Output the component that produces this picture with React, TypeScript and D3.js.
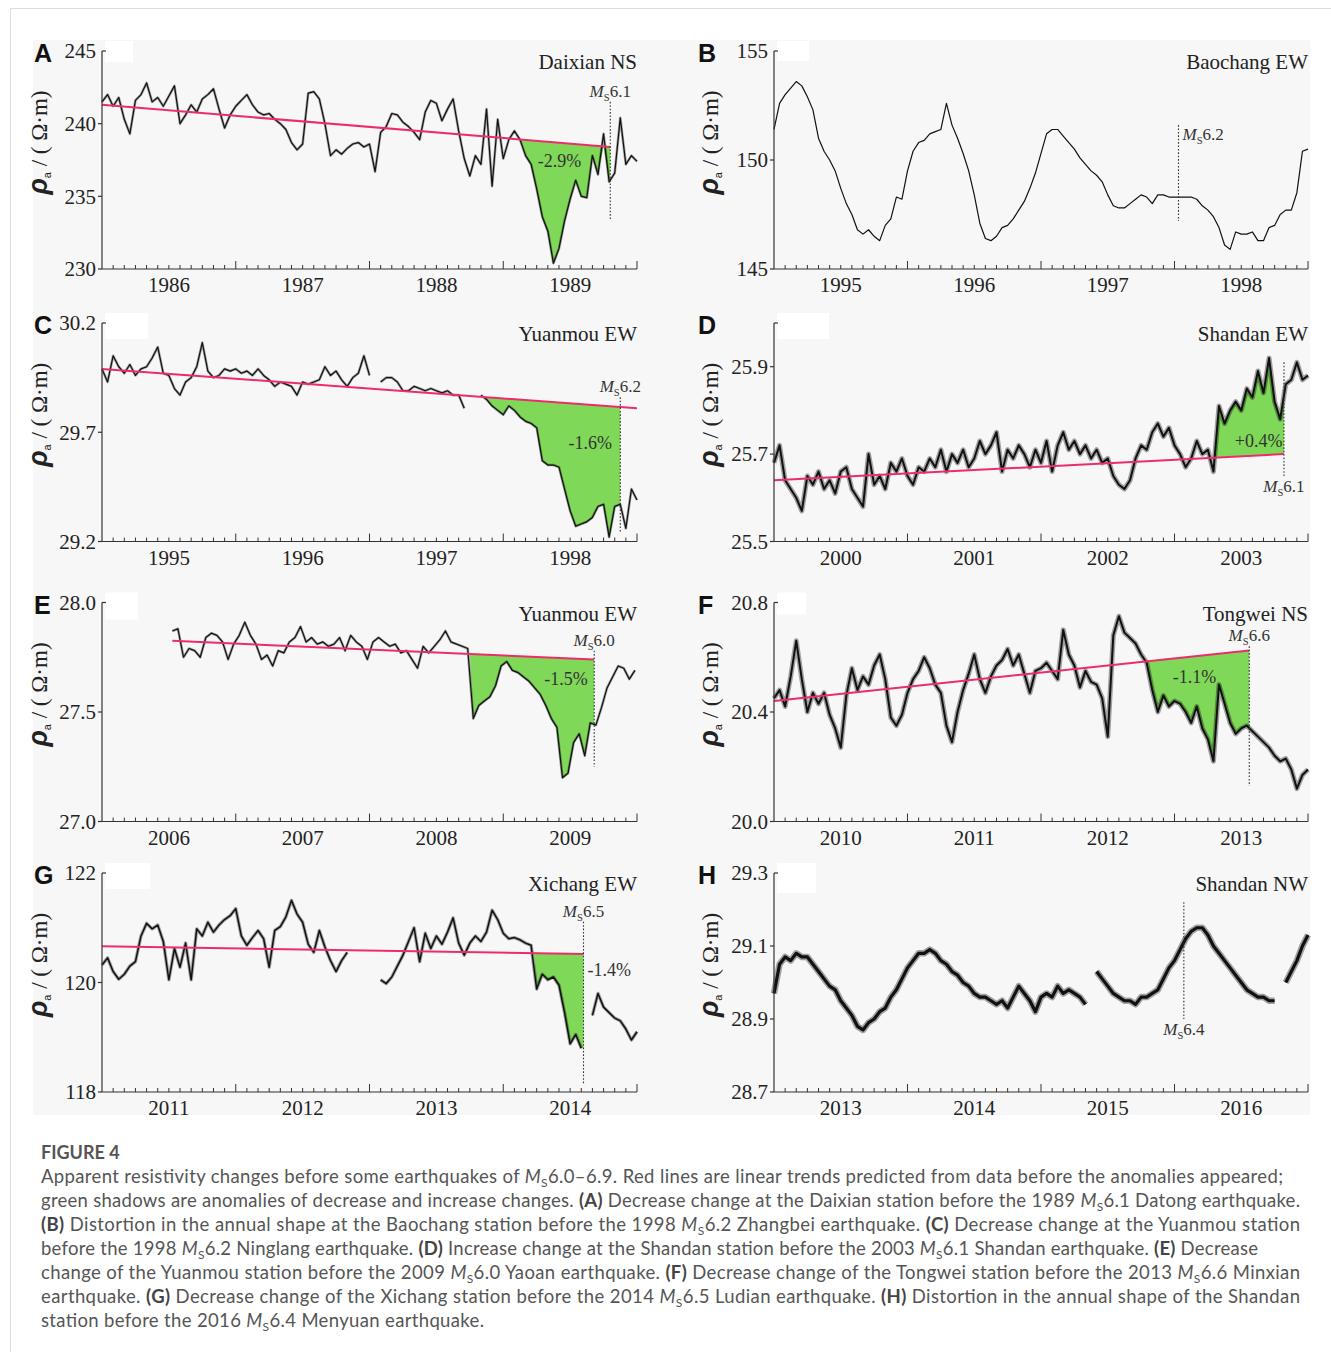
import React from "react";
import * as d3 from "d3";

// sampling step of every series: half a month
const STEP = 1 / 24;

// ---- series (apparent resistivity, Ω·m) ----
const daixianNS = [
  241.5, 242.0, 241.2, 241.8, 240.3, 239.3, 241.6, 242.0, 242.8, 241.5,
  241.8, 241.2, 241.9, 242.6, 240.0, 240.6, 241.3, 240.8, 241.7, 242.0,
  242.4, 241.0, 239.7, 240.6, 241.2, 241.6, 242.0, 241.3, 240.8, 240.6,
  240.7, 240.3, 240.0, 239.6, 238.7, 238.2, 238.6, 242.1, 242.2, 241.7,
  240.0, 237.8, 238.2, 237.9, 238.3, 238.6, 238.7, 238.4, 238.6, 236.7,
  239.4, 239.8, 240.7, 240.6, 240.1, 239.8, 239.4, 238.9, 240.8, 241.6,
  241.4, 240.2, 241.0, 241.7, 239.5, 237.6, 236.4, 237.8, 237.2, 241.0,
  235.7, 240.3, 237.6, 238.9, 239.5, 238.9, 237.8, 237.2, 235.5, 233.6,
  232.6, 230.4, 231.4, 233.3, 234.8, 236.1, 235.0, 234.9, 237.8, 236.5,
  239.3, 236.0, 236.6, 240.4, 237.2, 237.8, 237.4,
];

const baochangEW = [
  151.4, 152.6, 153.0, 153.3, 153.6, 153.4, 152.9, 152.3, 151.0, 150.4,
  150.0, 149.5, 148.7, 148.0, 147.5, 146.8, 146.6, 146.8, 146.5, 146.3,
  147.0, 147.3, 148.3, 148.2, 149.5, 150.4, 150.8, 150.9, 151.2, 151.3,
  151.4, 152.6, 151.6, 151.0, 150.3, 149.5, 148.4, 147.1, 146.4, 146.3,
  146.5, 146.9, 147.0, 147.3, 147.7, 148.1, 148.7, 149.4, 150.3, 151.2,
  151.4, 151.4, 151.1, 150.8, 150.5, 150.1, 149.8, 149.5, 149.3, 149.0,
  148.4, 147.9, 147.8, 147.8, 148.0, 148.2, 148.4, 148.3, 148.0, 148.4,
  148.4, 148.3, 148.3, 148.3, 148.3, 148.3, 148.2, 147.9, 147.7, 147.4,
  146.9, 146.1, 145.9, 146.7, 146.6, 146.6, 146.7, 146.3, 146.3, 146.9,
  147.0, 147.5, 147.7, 147.7, 148.5, 150.4, 150.5,
];

const yuanmouEW9598 = [
  29.99, 29.93, 30.05, 30.0, 29.97, 30.01, 29.96, 29.99, 30.0, 30.04,
  30.09, 29.97, 29.96, 29.9, 29.87, 29.93, 29.95, 30.0, 30.11, 29.98,
  29.95, 29.96, 29.99, 29.98, 29.99, 29.97, 29.98, 29.96, 29.99, 29.96,
  29.94, 29.91, 29.93, 29.92, 29.91, 29.87, 29.93, 29.92, 29.93, 29.94,
  30.0, 29.96, 29.98, 29.94, 29.91, 29.95, 29.97, 30.05, 29.96, null,
  29.93, 29.95, 29.95, 29.93, 29.89, 29.89, 29.91, 29.9, 29.89, 29.9,
  29.89, 29.88, 29.89, 29.87, 29.87, 29.81, null, null, 29.87, 29.85,
  29.82, 29.8, 29.78, 29.82, 29.8, 29.77, 29.75, 29.74, 29.72, 29.57,
  29.55, 29.55, 29.54, 29.44, 29.34, 29.27, 29.28, 29.29, 29.31, 29.36,
  29.37, 29.22, 29.36, 29.37, 29.26, 29.44, 29.39,
];

const shandanEW = [
  25.68, 25.72, 25.64, 25.62, 25.6, 25.57, 25.65, 25.63, 25.66, 25.62,
  25.64, 25.61, 25.66, 25.67, 25.62, 25.6, 25.58, 25.7, 25.63, 25.65,
  25.62, 25.68, 25.66, 25.69, 25.65, 25.63, 25.67, 25.66, 25.69, 25.67,
  25.71, 25.66, 25.7, 25.68, 25.71, 25.67, 25.69, 25.73, 25.7, 25.72,
  25.75, 25.66, 25.71, 25.69, 25.72, 25.7, 25.67, 25.71, 25.68, 25.73,
  25.66, 25.72, 25.75, 25.71, 25.73, 25.7, 25.72, 25.69, 25.71, 25.68,
  25.69, 25.65, 25.63, 25.62, 25.64, 25.69, 25.72, 25.71, 25.75, 25.77,
  25.74, 25.76, 25.72, 25.7, 25.67, 25.69, 25.73, 25.7, 25.71, 25.66,
  25.81, 25.77, 25.8, 25.82, 25.8, 25.85, 25.83, 25.89, 25.84, 25.92,
  25.82, 25.78, 25.86, 25.87, 25.91, 25.87, 25.88,
];

const yuanmouEW0609 = [
  27.87, 27.88, 27.75, 27.79, 27.78, 27.75, 27.84, 27.86, 27.85, 27.82,
  27.74, 27.81, 27.85, 27.91, 27.85, 27.81, 27.74, 27.76, 27.71, 27.78,
  27.77, 27.82, 27.84, 27.89, 27.82, 27.84, 27.81, 27.82, 27.8, 27.81,
  27.84, 27.78, 27.85, 27.82, 27.8, 27.74, 27.82, 27.84, 27.82, 27.8,
  27.81, 27.77, 27.78, 27.74, 27.7, 27.8, 27.77, 27.8, 27.83, 27.87,
  27.82, 27.81, 27.8, 27.79, 27.47, 27.53, 27.55, 27.57, 27.62, 27.71,
  27.73, 27.69, 27.68, 27.66, 27.64, 27.61, 27.58, 27.53, 27.47, 27.43,
  27.2, 27.22, 27.36, 27.4, 27.3, 27.45, 27.44, 27.52, 27.61, 27.66,
  27.71, 27.7, 27.65, 27.69,
];

const tongweiNS = [
  20.45, 20.48, 20.42, 20.53, 20.66, 20.52, 20.4, 20.47, 20.43, 20.47,
  20.39, 20.34, 20.27, 20.46, 20.56, 20.48, 20.53, 20.5, 20.57, 20.61,
  20.52, 20.38, 20.35, 20.39, 20.47, 20.52, 20.55, 20.6, 20.56, 20.5,
  20.47, 20.35, 20.29, 20.4, 20.48, 20.54, 20.61, 20.52, 20.47, 20.53,
  20.57, 20.59, 20.63, 20.57, 20.61, 20.54, 20.47, 20.55, 20.56, 20.58,
  20.55, 20.52, 20.7, 20.61, 20.57, 20.49, 20.55, 20.51, 20.5, 20.45,
  20.31, 20.68, 20.75, 20.69, 20.67, 20.65, 20.61, 20.58, 20.48, 20.4,
  20.46, 20.42, 20.44, 20.43, 20.4, 20.36, 20.42, 20.34, 20.3, 20.22,
  20.5, 20.43, 20.36, 20.32, 20.34, 20.35, 20.33, 20.31, 20.29, 20.27,
  20.24, 20.22, 20.23, 20.19, 20.12, 20.17, 20.19,
];

const xichangEW = [
  120.32, 120.45, 120.2, 120.06, 120.15, 120.3, 120.38, 120.85, 121.08, 120.98,
  121.05, 120.75, 120.05, 120.62, 120.28, 120.72, 120.05, 120.98, 120.85, 121.1,
  120.92, 121.05, 121.15, 121.22, 121.35, 120.85, 120.68, 120.82, 120.95, 120.8,
  120.28, 120.95, 121.02, 121.2, 121.5, 121.25, 121.1, 120.7, 120.55, 120.95,
  120.65, 120.4, 120.2, 120.4, 120.55, null, null, null, null, null,
  120.05, 119.98, 120.1, 120.3, 120.5, 120.75, 121.0, 120.38, 120.9, 120.62,
  120.85, 120.7, 120.92, 121.18, 120.72, 120.5, 120.72, 120.85, 120.75, 120.92,
  121.32, 121.15, 120.9, 120.8, 120.82, 120.78, 120.72, 120.68, 119.88, 120.15,
  120.05, 120.1, 119.95, 119.45, 118.88, 119.05, 118.8, null, 119.4, 119.8,
  119.55, 119.45, 119.35, 119.3, 119.15, 118.95, 119.1,
];

const shandanNW = [
  28.97, 29.05, 29.07, 29.06, 29.08, 29.07, 29.07, 29.05, 29.03, 29.01,
  28.99, 28.98, 28.95, 28.93, 28.91, 28.88, 28.87, 28.89, 28.9, 28.92,
  28.93, 28.96, 28.98, 29.01, 29.04, 29.06, 29.08, 29.08, 29.09, 29.08,
  29.06, 29.05, 29.03, 29.02, 29.0, 28.99, 28.97, 28.96, 28.96, 28.95,
  28.94, 28.95, 28.93, 28.96, 28.99, 28.97, 28.95, 28.92, 28.96, 28.97,
  28.96, 28.99, 28.97, 28.98, 28.97, 28.96, 28.94, null, 29.03, 29.01,
  28.99, 28.97, 28.96, 28.95, 28.95, 28.94, 28.96, 28.96, 28.97, 28.98,
  29.01, 29.04, 29.06, 29.09, 29.12, 29.14, 29.15, 29.15, 29.13, 29.1,
  29.08, 29.06, 29.04, 29.02, 29.0, 28.98, 28.97, 28.96, 28.96, 28.95,
  28.95, null, 29.0, 29.03, 29.06, 29.1, 29.13,
];

// ---- caption ----
const captionTitle = "FIGURE 4";
const captionLines = [
  "Apparent resistivity changes before some earthquakes of {M}6.0–6.9. Red lines are linear trends predicted from data before the anomalies appeared;",
  "green shadows are anomalies of decrease and increase changes. **(A)** Decrease change at the Daixian station before the 1989 {M}6.1 Datong earthquake.",
  "**(B)** Distortion in the annual shape at the Baochang station before the 1998 {M}6.2 Zhangbei earthquake. **(C)** Decrease change at the Yuanmou station",
  "before the 1998 {M}6.2 Ninglang earthquake. **(D)** Increase change at the Shandan station before the 2003 {M}6.1 Shandan earthquake. **(E)** Decrease",
  "change of the Yuanmou station before the 2009 {M}6.0 Yaoan earthquake. **(F)** Decrease change of the Tongwei station before the 2013 {M}6.6 Minxian",
  "earthquake. **(G)** Decrease change of the Xichang station before the 2014 {M}6.5 Ludian earthquake. **(H)** Distortion in the annual shape of the Shandan",
  "station before the 2016 {M}6.4 Menyuan earthquake.",
];

// ---- layout ----
const W = 1331;
const H = 1352;
const colX: [number, number][] = [[102, 637], [774, 1308]];
const rowY: [number, number][] = [[51, 269], [323, 541.5], [602.5, 821.5], [873, 1092]];
const captionEnds = [1283, 1300, 1300, 1258, 1300, 1300, 484];

const SERIF = "'Liberation Serif', 'Times New Roman', serif";
const SANS = "'Liberation Sans', Arial, sans-serif";
const CAPTION_FONT = "Lato, 'Open Sans', sans-serif";
const RED = "#ec2d6a";
const GREEN = "#7fd858";
const INK = "#222";

type Pt = [number, number | null];

interface PanelCfg {
  letter: string;
  station: string;
  col: number;
  row: number;
  year0: number;
  yDomain: [number, number];
  yTicks: number[];
  fmt: (v: number) => string;
  t0: number;
  values: (number | null)[];
  trend?: [[number, number], [number, number]];
  anomalyStart?: number;
  increase?: boolean;
  eq: number;
  eqSpan: [number, number];
  ms: string;
  msPos: "above" | "below" | "right";
  pct?: { text: string; t: number; v: number; anchor: "middle" | "start" };
  strokeW: number;
  halo: number;
  mask: [number, number];
}

const fInt = d3.format("d");
const f1 = d3.format(".1f");

const panels: PanelCfg[] = [
  {
    letter: "A", station: "Daixian NS", col: 0, row: 0, year0: 1986,
    yDomain: [230, 245], yTicks: [230, 235, 240, 245], fmt: fInt,
    t0: 1986, values: daixianNS,
    trend: [[1986, 241.3], [1989.8, 238.4]], anomalyStart: 1989.13,
    eq: 1989.8, eqSpan: [241.5, 233.4], ms: "6.1", msPos: "above",
    pct: { text: "-2.9%", t: 1989.42, v: 237.45, anchor: "middle" },
    strokeW: 1.2, halo: 2.6, mask: [28, 21],
  },
  {
    letter: "B", station: "Baochang EW", col: 1, row: 0, year0: 1995,
    yDomain: [145, 155], yTicks: [145, 150, 155], fmt: fInt,
    t0: 1995, values: baochangEW,
    eq: 1998.03, eqSpan: [151.6, 147.2], ms: "6.2", msPos: "right",
    strokeW: 1.2, halo: 0, mask: [32, 20],
  },
  {
    letter: "C", station: "Yuanmou EW", col: 0, row: 1, year0: 1995,
    yDomain: [29.2, 30.2], yTicks: [29.2, 29.7, 30.2], fmt: f1,
    t0: 1995, values: yuanmouEW9598,
    trend: [[1995, 29.99], [1999, 29.81]], anomalyStart: 1997.85,
    eq: 1998.875, eqSpan: [29.86, 29.24], ms: "6.2", msPos: "above",
    pct: { text: "-1.6%", t: 1998.65, v: 29.65, anchor: "middle" },
    strokeW: 1.2, halo: 2.6, mask: [43, 26],
  },
  {
    letter: "D", station: "Shandan EW", col: 1, row: 1, year0: 2000,
    yDomain: [25.5, 26.0], yTicks: [25.5, 25.7, 25.9], fmt: f1,
    t0: 2000, values: shandanEW,
    trend: [[2000, 25.64], [2003.82, 25.7]], anomalyStart: 2003.3, increase: true,
    eq: 2003.82, eqSpan: [25.91, 25.65], ms: "6.1", msPos: "below",
    pct: { text: "+0.4%", t: 2003.63, v: 25.73, anchor: "middle" },
    strokeW: 2, halo: 5, mask: [52, 26],
  },
  {
    letter: "E", station: "Yuanmou EW", col: 0, row: 2, year0: 2006,
    yDomain: [27.0, 28.0], yTicks: [27.0, 27.5, 28.0], fmt: f1,
    t0: 2006.526, values: yuanmouEW0609,
    trend: [[2006.526, 27.825], [2009.68, 27.74]], anomalyStart: 2008.75,
    eq: 2009.68, eqSpan: [27.78, 27.25], ms: "6.0", msPos: "above",
    pct: { text: "-1.5%", t: 2009.47, v: 27.65, anchor: "middle" },
    strokeW: 1.2, halo: 2.6, mask: [33, 27],
  },
  {
    letter: "F", station: "Tongwei NS", col: 1, row: 2, year0: 2010,
    yDomain: [20.0, 20.8], yTicks: [20.0, 20.4, 20.8], fmt: f1,
    t0: 2010, values: tongweiNS,
    trend: [[2010, 20.44], [2013.56, 20.625]], anomalyStart: 2012.8,
    eq: 2013.56, eqSpan: [20.64, 20.13], ms: "6.6", msPos: "above",
    pct: { text: "-1.1%", t: 2013.15, v: 20.53, anchor: "middle" },
    strokeW: 2, halo: 5, mask: [29, 22],
  },
  {
    letter: "G", station: "Xichang EW", col: 0, row: 3, year0: 2011,
    yDomain: [118, 122], yTicks: [118, 120, 122], fmt: fInt,
    t0: 2011, values: xichangEW,
    trend: [[2011, 120.66], [2014.6, 120.52]], anomalyStart: 2014.23,
    eq: 2014.6, eqSpan: [121.11, 118.15], ms: "6.5", msPos: "above",
    pct: { text: "-1.4%", t: 2014.63, v: 120.23, anchor: "start" },
    strokeW: 1.5, halo: 3.4, mask: [45, 26],
  },
  {
    letter: "H", station: "Shandan NW", col: 1, row: 3, year0: 2013,
    yDomain: [28.7, 29.3], yTicks: [28.7, 28.9, 29.1, 29.3], fmt: f1,
    t0: 2013, values: shandanNW,
    eq: 2016.07, eqSpan: [29.22, 28.9], ms: "6.4", msPos: "below",
    strokeW: 3.2, halo: 6.5, mask: [39, 30],
  },
];

// M_S magnitude text: italic M, subscript S, then the number
function MsText({ value, size }: { value: string; size: number }) {
  return (
    <>
      <tspan fontStyle="italic">M</tspan>
      <tspan fontSize={size * 0.62} dy={4}>S</tspan>
      <tspan dy={-4}>{value}</tspan>
    </>
  );
}

function richLine(s: string, size: number) {
  const parts = s.split(/(\*\*[^*]+\*\*|\{M\})/).filter((p) => p.length > 0);
  const out: React.ReactNode[] = [];
  let pending = 0;
  parts.forEach((p, i) => {
    if (p === "{M}") {
      out.push(<tspan key={i + "m"} fontStyle="italic" dy={pending}>M</tspan>);
      out.push(<tspan key={i + "s"} fontSize={size * 0.65} dy={4}>S</tspan>);
      pending = -4;
    } else if (p.startsWith("**")) {
      out.push(<tspan key={i} fontWeight={700} fill="#444" dy={pending}>{p.slice(2, -2)}</tspan>);
      pending = 0;
    } else {
      out.push(<tspan key={i} dy={pending}>{p}</tspan>);
      pending = 0;
    }
  });
  return out;
}

function Panel({ p }: { p: PanelCfg }) {
  const [x0, x1] = colX[p.col];
  const [top, bottom] = rowY[p.row];
  const x = d3.scaleLinear().domain([p.year0, p.year0 + 4]).range([x0, x1]);
  const y = d3.scaleLinear().domain(p.yDomain).range([bottom, top]);

  const pts: Pt[] = p.values.map((v, i) => [p.t0 + i * STEP, v]);
  const line = d3
    .line<Pt>()
    .defined((d) => d[1] !== null)
    .x((d) => x(d[0]))
    .y((d) => y(d[1] as number));

  const valueAt = (t: number): number => {
    const k = Math.floor((t - p.t0) / STEP);
    const a = p.values[k];
    const b = p.values[k + 1];
    if (a != null && b != null) {
      const f = (t - (p.t0 + k * STEP)) / STEP;
      return a + (b - a) * f;
    }
    return (a ?? b) as number;
  };

  let areaPath: string | null = null;
  let trendAt: ((t: number) => number) | null = null;
  if (p.trend) {
    const [[ta, va], [tb, vb]] = p.trend;
    trendAt = (t: number) => va + ((t - ta) * (vb - va)) / (tb - ta);
  }
  if (p.trend && p.anomalyStart !== undefined && trendAt) {
    const tr = trendAt;
    const a0 = p.anomalyStart;
    const seg: [number, number][] = [[a0, tr(a0)]];
    pts.forEach(([t, v]) => {
      if (v !== null && t > a0 && t < p.eq) seg.push([t, v]);
    });
    seg.push([p.eq, valueAt(p.eq)]);
    const clamp = (t: number, v: number) =>
      p.increase ? Math.max(v, tr(t)) : Math.min(v, tr(t));
    areaPath = d3
      .area<[number, number]>()
      .x((d) => x(d[0]))
      .y0((d) => y(tr(d[0])))
      .y1((d) => y(clamp(d[0], d[1])))(seg);
  }

  const months = d3.range(1, 49);
  const titleX = p.col === 0 ? 47 : 718;
  const titleY = top + 0.42 * (bottom - top);
  const eqX = x(p.eq);
  const eqTop = y(p.eqSpan[0]);
  const eqBot = y(p.eqSpan[1]);

  let msX = eqX;
  let msY = eqTop - 5;
  let msAnchor: "middle" | "start" = "middle";
  if (p.msPos === "below") msY = eqBot + 16;
  if (p.msPos === "right") {
    msX = eqX + 4;
    msY = eqTop + 15;
    msAnchor = "start";
  }

  return (
    <g>
      <rect x={x0 + 3} y={top - 10} width={p.mask[0]} height={p.mask[1]} fill="#fff" />
      {areaPath && <path d={areaPath} fill={GREEN} />}
      {p.halo > 0 && (
        <path d={line(pts) ?? ""} fill="none" stroke="#000" strokeOpacity={0.35}
          strokeWidth={p.halo} strokeLinejoin="round" />
      )}
      <path d={line(pts) ?? ""} fill="none" stroke="#111" strokeWidth={p.strokeW}
        strokeLinejoin="round" />
      {p.trend && trendAt && (
        <line x1={x(p.trend[0][0])} y1={y(p.trend[0][1])} x2={x(p.trend[1][0])}
          y2={y(p.trend[1][1])} stroke={RED} strokeWidth={2} />
      )}
      <line x1={eqX} x2={eqX} y1={eqTop} y2={eqBot} stroke="#333" strokeWidth={1.1}
        strokeDasharray="1.6,1.8" />
      <text x={msX} y={msY} textAnchor={msAnchor} fontFamily={SERIF} fontSize={17} fill="#333">
        <MsText value={p.ms} size={17} />
      </text>
      {p.pct && (
        <text x={x(p.pct.t)} y={y(p.pct.v)} dy="0.35em" textAnchor={p.pct.anchor}
          fontFamily={SERIF} fontSize={18} fill="#333">
          {p.pct.text}
        </text>
      )}

      {/* axes */}
      <line x1={x0} x2={x0} y1={top} y2={bottom} stroke="#333" strokeWidth={1.2} />
      <line x1={x0} x2={x1} y1={bottom} y2={bottom} stroke="#333" strokeWidth={1.2} />
      {months.map((k) => {
        const tx = x(p.year0 + k / 12);
        return (
          <line key={k} x1={tx} x2={tx} y1={bottom} y2={bottom - (k % 12 === 0 ? 8 : 4)}
            stroke="#333" strokeWidth={1} />
        );
      })}
      <line x1={x0} x2={x0 + 4} y1={top} y2={top} stroke="#333" strokeWidth={1.2} />
      {p.yTicks.map((v) => (
        <g key={v}>
          {v !== p.yDomain[1] && (
            <line x1={x0 - 4} x2={x0} y1={y(v)} y2={y(v)} stroke="#333" strokeWidth={1.2} />
          )}
          <text x={x0 - 6} y={y(v)} dy="0.35em" textAnchor="end" fontFamily={SERIF}
            fontSize={21} fill={INK}>
            {p.fmt(v)}
          </text>
        </g>
      ))}
      {d3.range(4).map((k) => (
        <text key={k} x={x(p.year0 + k + 0.5)} y={bottom + 23} textAnchor="middle"
          fontFamily={SERIF} fontSize={21} fill={INK}>
          {p.year0 + k}
        </text>
      ))}

      {/* titles */}
      <text x={p.col === 0 ? 34 : 698} y={top + 11} fontFamily={SANS} fontWeight={700}
        fontSize={25} fill="#111">
        {p.letter}
      </text>
      <text x={x1} y={top + 18} textAnchor="end" fontFamily={SERIF} fontSize={21} fill={INK}>
        {p.station}
      </text>
      <text transform={`translate(${titleX},${titleY}) rotate(-90)`} textAnchor="middle"
        fontFamily={SERIF} fontSize={23} fill={INK}>
        <tspan fontFamily={SANS} fontStyle="italic" fontWeight={700} fontSize={27}>ρ</tspan>
        <tspan fontFamily={SANS} fontSize={11} dy={4}>a</tspan>
        <tspan dy={-4}>{" / ( Ω·m)"}</tspan>
      </text>
    </g>
  );
}

export default function App() {
  return (
    <svg width={W} height={H} style={{ position: "absolute", left: 0, top: 0, background: "#fff" }}>
      <line x1={10.5} x2={W} y1={8.5} y2={8.5} stroke="#ddd" />
      <line x1={10.5} x2={10.5} y1={8.5} y2={H} stroke="#ddd" />
      <rect x={33} y={40} width={1277} height={1075} fill="#f7f7f7" />
      {panels.map((p) => (
        <Panel key={p.letter} p={p} />
      ))}
      <text x={41} y={1159} fontFamily={CAPTION_FONT} fontSize={18} fontWeight={700} fill="#555">
        {captionTitle}
      </text>
      {captionLines.map((s, i) => (
        <text key={i} x={41} y={1183 + i * 24} fontFamily={CAPTION_FONT} fontSize={18.5}
          fill="#555" textLength={captionEnds[i] - 41} lengthAdjust="spacing">
          {richLine(s, 18.5)}
        </text>
      ))}
    </svg>
  );
}
